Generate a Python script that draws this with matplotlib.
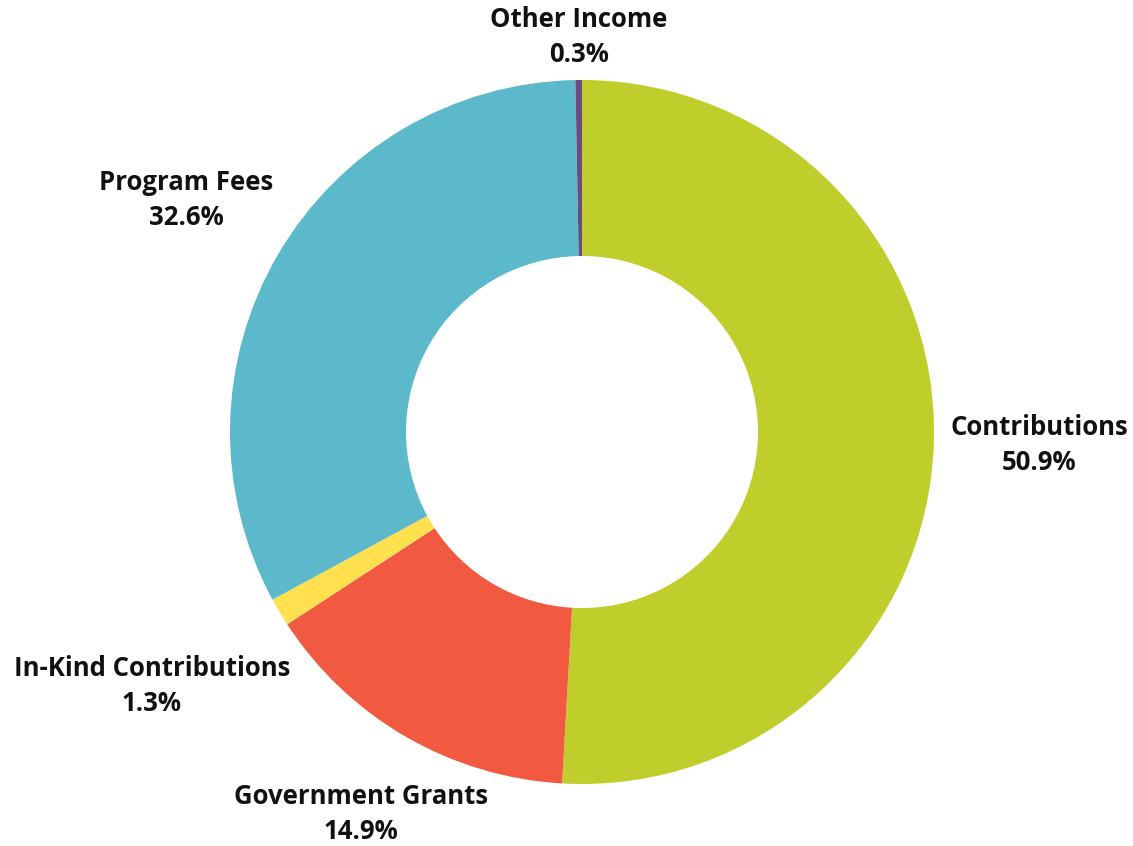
import matplotlib
matplotlib.use("Agg")
import matplotlib.pyplot as plt

categories = ["Contributions", "Government Grants", "In-Kind Contributions", "Program Fees", "Other Income"]
values = [50.9, 14.9, 1.3, 32.6, 0.3]
colors = ["#BFCE2B", "#F15A40", "#FFE14F", "#5BB9CB", "#6A4C7E"]

# label centres in pixel coordinates (layout only)
label_px = [(1039, 445), (361, 814), (152, 686), (186, 200), (579, 37)]

W, H = 1133, 846
cx, cy, R = 582, 432, 352

fig = plt.figure(figsize=(W / 100, H / 100), dpi=100)
ax = fig.add_axes([0, 0, 1, 1])
ax.pie(values, colors=colors, startangle=90, counterclock=False,
       radius=1.0, wedgeprops=dict(width=0.5, linewidth=0))
ax.set_xlim(-cx / R, (W - cx) / R)
ax.set_ylim((cy - H) / R, cy / R)
ax.set_aspect("equal")
ax.axis("off")

for name, v, (px, py) in zip(categories, values, label_px):
    x = (px - cx) / R
    y = (cy - py) / R
    ax.text(x, y, f"{name}\n{v:.1f}%", ha="center", va="center",
            fontsize=18.5, fontweight="bold", family="Open Sans",
            linespacing=1.42, color="#111111")

fig.savefig("out.png", dpi=100)
